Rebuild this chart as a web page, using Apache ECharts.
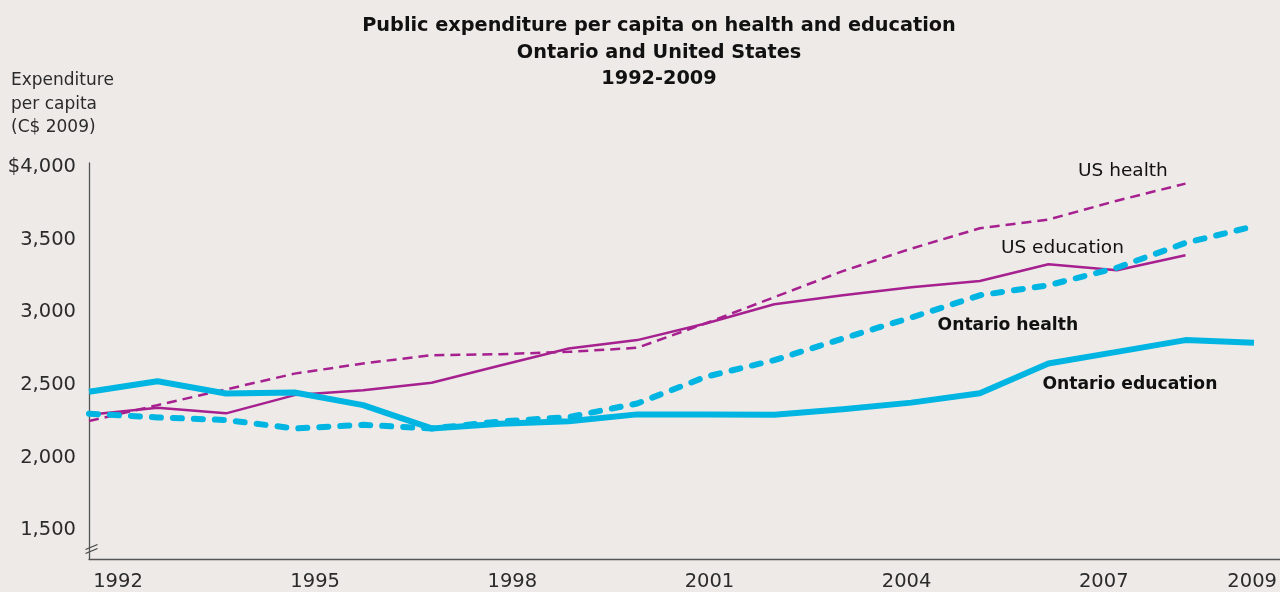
<!DOCTYPE html>
<html>
<head>
<meta charset="utf-8">
<script src="https://cdn.jsdelivr.net/npm/echarts@6/dist/echarts.min.js"></script>
<style>
  html, body { margin: 0; padding: 0; background: #edeae7; }
  #chart { width: 1280px; height: 592px; }
</style>
</head>
<body>
<div id="chart"></div>
<script>
// Years covered by the series
const years = [1992, 1993, 1994, 1995, 1996, 1997, 1998, 1999, 2000,
               2001, 2002, 2003, 2004, 2005, 2006, 2007, 2008, 2009];
// Years shown as tick labels along the bottom
const yearTicks = ['1992', '1995', '1998', '2001', '2004', '2007', '2009'];
// Expenditure per capita, C$ 2009
const ontarioEducation = [2453, 2525, 2441, 2448, 2361, 2200, 2232, 2250, 2297,
                          2297, 2295, 2333, 2378, 2442, 2648, 2728, 2809, 2790];
const ontarioHealth    = [2302, 2276, 2258, 2200, 2225, 2200, 2248, 2278, 2372,
                          2556, 2671, 2820, 2965, 3118, 3187, 3308, 3479, 3594];
const usEducation      = [2295, 2342, 2304, 2430, 2464, 2515, 2634, 2751, 2809,
                          2924, 3056, 3118, 3174, 3217, 3332, 3291, 3394];
const usHealth         = [2251, 2361, 2469, 2578, 2648, 2705, 2712, 2728, 2756,
                          2925, 3105, 3285, 3440, 3580, 3640, 3770, 3888];
// Value ticks that carry a label
const valueTicks = [1500, 2000, 2500, 3000, 3500, 4000];

const CYAN = '#00b5e2';
const MAGENTA = '#a6208f';
const INK = '#111111';
const AXIS_TEXT = '#2b2b2b';
const FONT = '"DejaVu Sans", "Noto Sans", sans-serif';

const pairs = vals => vals.map((v, i) => [years[i], v]);

function tag(text, year, value, offset, bold) {
  return {
    symbol: 'none',
    data: [{ coord: [year, value], symbol: 'circle', symbolSize: 0 }],
    label: {
      show: true, position: 'inside', offset: offset, formatter: text,
      color: INK, fontFamily: FONT, fontSize: bold ? 17.2 : 18.5,
      fontWeight: bold ? 700 : 400
    },
    itemStyle: { color: 'transparent' },
    silent: true
  };
}

const chart = echarts.init(document.getElementById('chart'), null, { renderer: 'canvas' });

chart.setOption({
  backgroundColor: '#edeae7',
  animation: false,
  title: {
    text: 'Public expenditure per capita on health and education\nOntario and United States\n1992-2009',
    left: 654, top: 8, textAlign: 'center',
    textStyle: { fontFamily: FONT, fontSize: 19.3, fontWeight: 700, color: INK, lineHeight: 26.5 }
  },
  graphic: [
    {
      type: 'text', left: 11, top: 69,
      style: {
        text: 'Expenditure\nper capita\n(C$ 2009)',
        fontFamily: FONT, fontSize: 17, lineHeight: 23.5, fill: AXIS_TEXT
      }
    },
    // axis break marks near the base of the value axis
    {
      type: 'group', left: 83, top: 542,
      children: [
        { type: 'line', shape: { x1: 0, y1: 6, x2: 12, y2: 1 }, style: { stroke: '#444', lineWidth: 1.2 } },
        { type: 'line', shape: { x1: 0, y1: 10, x2: 12, y2: 5 }, style: { stroke: '#444', lineWidth: 1.2 } }
      ]
    }
  ],
  grid: [
    { left: 89, right: 0, top: 163, bottom: 33, containLabel: false },
    { left: 118, right: 44.6, top: 163, bottom: 33, containLabel: false }
  ],
  xAxis: [
    {
      type: 'value', gridIndex: 0,
      min: 1992, max: 2009 + 26 / 68.5,
      axisLine: { show: true, onZero: false, lineStyle: { color: '#555', width: 1.3 } },
      axisTick: { show: false }, axisLabel: { show: false }, splitLine: { show: false }
    },
    {
      type: 'category', gridIndex: 1, boundaryGap: false,
      data: years.map(y => {
        const s = String(y);
        return s === '2009' ? { value: s, textStyle: { padding: [0, 0, 0, 34] } } : s;
      }),
      axisLine: { show: false }, axisTick: { show: false }, splitLine: { show: false },
      axisLabel: {
        interval: 0, margin: 16,
        formatter: v => (yearTicks.indexOf(v) >= 0 ? v : ''),
        color: AXIS_TEXT, fontFamily: FONT, fontSize: 19.5
      }
    }
  ],
  yAxis: [
    {
      type: 'value', gridIndex: 0,
      min: 1300, max: 4030, interval: 100,
      axisLine: { show: true, onZero: false, lineStyle: { color: '#555', width: 1.3 } },
      axisTick: { show: false }, splitLine: { show: false },
      axisLabel: {
        margin: 13, color: AXIS_TEXT, fontFamily: FONT, fontSize: 19.5,
        formatter: v => {
          if (valueTicks.indexOf(v) < 0) return '';
          const s = v.toLocaleString('en-US');
          return v === 4000 ? '$' + s : s;
        }
      }
    },
    {
      type: 'value', gridIndex: 1, min: 0, max: 1, show: false
    }
  ],
  series: [
    {
      name: 'US health', type: 'line', xAxisIndex: 0, yAxisIndex: 0,
      data: pairs(usHealth), symbol: 'none',
      lineStyle: { color: MAGENTA, width: 2.5, type: [10, 6] },
      markPoint: tag('US health', 2007, 3770, [6, -30], false)
    },
    {
      name: 'US education', type: 'line', xAxisIndex: 0, yAxisIndex: 0,
      data: pairs(usEducation), symbol: 'none',
      lineStyle: { color: MAGENTA, width: 2.5 },
      markPoint: tag('US education', 2006, 3332, [14, -16], false)
    },
    {
      name: 'Ontario health', type: 'line', xAxisIndex: 0, yAxisIndex: 0,
      data: pairs(ontarioHealth), symbol: 'none',
      lineStyle: { color: CYAN, width: 6, type: [9, 12], cap: 'round', join: 'round' },
      markPoint: tag('Ontario health', 2005, 3118, [28, 30], true)
    },
    {
      name: 'Ontario education', type: 'line', xAxisIndex: 0, yAxisIndex: 0,
      data: pairs(ontarioEducation), symbol: 'none',
      lineStyle: { color: CYAN, width: 6, join: 'round' },
      markPoint: tag('Ontario education', 2007, 2728, [13, 33], true)
    }
  ]
});
</script>
</body>
</html>
